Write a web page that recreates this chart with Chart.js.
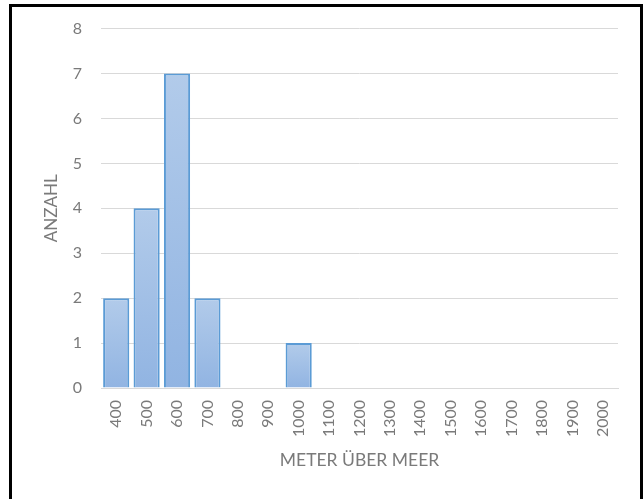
<!DOCTYPE html>
<html>
<head>
<meta charset="utf-8">
<script src="https://cdn.jsdelivr.net/npm/chart.js@4/dist/chart.umd.min.js"></script>
<style>
  html, body { margin: 0; padding: 0; background: #ffffff; }
  #wrap { position: relative; width: 644px; height: 499px; }
  canvas { display: block; }
</style>
</head>
<body>
<div id="wrap"><canvas id="c" width="644" height="499"></canvas></div>
<script>
// Höhenklassen (Meter über Meer) und Anzahl pro Klasse
const hoehen = ['400','500','600','700','800','900','1000','1100','1200','1300','1400','1500','1600','1700','1800','1900','2000'];
const anzahl = [2, 4, 7, 2, 0, 0, 1, 0, 0, 0, 0, 0, 0, 0, 0, 0, 0];
const yTicks = [0, 1, 2, 3, 4, 5, 6, 7, 8];

const FONT = 'Lato, "Open Sans", sans-serif';
const GREY = '#7a7a7a';

// Senkrechter Verlauf je Balken, von der Oberkante bis zur Nulllinie
function barFill(ctx) {
  const chart = ctx.chart;
  const ys = chart.scales.y;
  if (!ys || ctx.type !== 'data') return '#a3c0e6';
  const v = ctx.parsed ? ctx.parsed.y : 0;
  const top = ys.getPixelForValue(v);
  const base = ys.getPixelForValue(0);
  if (!isFinite(top) || !isFinite(base) || Math.abs(base - top) < 1) return '#a3c0e6';
  const g = chart.ctx.createLinearGradient(0, top, 0, base);
  g.addColorStop(0, '#b2cbea');
  g.addColorStop(1, '#91b4e2');
  return g;
}

// Schwarzer Rahmen um die Grafik
const frame = {
  id: 'frame',
  afterDraw(chart) {
    const c = chart.ctx;
    c.save();
    c.strokeStyle = '#000000';
    c.lineWidth = 3;
    c.strokeRect(10.5, 5.5, 631, 520);
    c.restore();
  }
};

new Chart(document.getElementById('c'), {
  type: 'bar',
  data: {
    labels: hoehen,
    datasets: [{
      data: anzahl,
      backgroundColor: barFill,
      borderColor: '#5b9bd5',
      borderWidth: 2,
      barPercentage: 0.86,
      categoryPercentage: 1.0
    }]
  },
  options: {
    responsive: false,
    animation: false,
    layout: { padding: { left: 0, right: 26, top: 2, bottom: 0 } },
    plugins: { legend: { display: false }, tooltip: { enabled: false } },
    scales: {
      x: {
        grid: { display: false, drawTicks: false },
        border: { display: true, color: '#d9d9d9', width: 1 },
        ticks: {
          color: GREY,
          font: { family: FONT, size: 16 },
          minRotation: 90, maxRotation: 90,
          autoSkip: false,
          padding: 12
        },
        title: {
          display: true,
          text: 'METER ÜBER MEER',
          color: GREY,
          font: { family: FONT, size: 17.5 },
          padding: { top: 0, bottom: 28 }
        },
        afterFit(s) { s.height = 111; }
      },
      y: {
        min: 0, max: 8,
        afterBuildTicks(s) { s.ticks = yTicks.map(v => ({ value: v })); },
        grid: { color: '#d9d9d9', lineWidth: 1, drawTicks: false },
        border: { display: false },
        ticks: {
          color: GREY,
          font: { family: FONT, size: 16 },
          padding: 19
        },
        title: {
          display: true,
          text: 'ANZAHL',
          color: GREY,
          font: { family: FONT, size: 17 },
          padding: { top: 41, bottom: 0 }
        },
        afterFit(s) { s.width = 101; }
      }
    }
  },
  plugins: [frame]
});
</script>
</body>
</html>
